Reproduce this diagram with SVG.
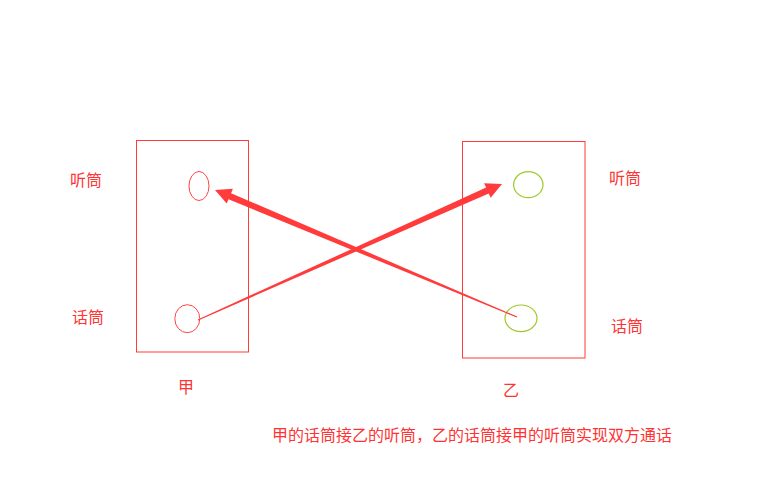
<svg xmlns="http://www.w3.org/2000/svg" width="784" height="504" viewBox="0 0 784 504">
<style>
.box{fill:none;stroke:#ff3b3b;stroke-width:1}
.redE{fill:none;stroke:#ff4444;stroke-width:1}
.grnE{fill:none;stroke:#a0c828;stroke-width:1.2}
.t{font-family:"Noto Sans CJK SC","Noto Sans",sans-serif;font-size:16px;fill:#ff3333}
.arr{fill:#ff3b3b;stroke:none}
</style>
<rect width="784" height="504" fill="#ffffff"/>
<g id="jia">
<rect class="box" x="136.5" y="140.5" width="112" height="211.5"/>
<ellipse id="jia-ting" class="redE" cx="199" cy="186" rx="10" ry="14.5"/>
<ellipse id="jia-hua" class="redE" cx="187.3" cy="318.7" rx="12.5" ry="14"/>
<text class="t" x="178" y="393">甲</text>
</g>
<g id="yi">
<rect class="box" x="462.5" y="141.5" width="122.5" height="216.5"/>
<ellipse id="yi-ting" class="grnE" cx="528.3" cy="184.7" rx="14.7" ry="13"/>
<ellipse id="yi-hua" class="grnE" cx="521" cy="318.3" rx="16" ry="13.3"/>
<text class="t" x="503" y="396">乙</text>
</g>
<g id="labels">
<text class="t" x="70" y="186">听筒</text>
<text class="t" x="72" y="323">话筒</text>
<text class="t" x="609" y="184">听筒</text>
<text class="t" x="611" y="332">话筒</text>
<text class="t" x="272" y="441">甲的话筒接乙的听筒，乙的话筒接甲的听筒实现双方通话</text>
</g>
<g id="connectors">
<polygon class="arr" points="197.8,319.5 486.1,187.5 484.1,183.2 502,184 490.7,197.8 488.7,193.5 198.2,320.5"/>
<polygon class="arr" points="517.2,316.5 231.1,193.2 232.9,188.8 215,190 226.7,203.6 228.5,199.2 516.8,317.5"/>
</g>
</svg>
